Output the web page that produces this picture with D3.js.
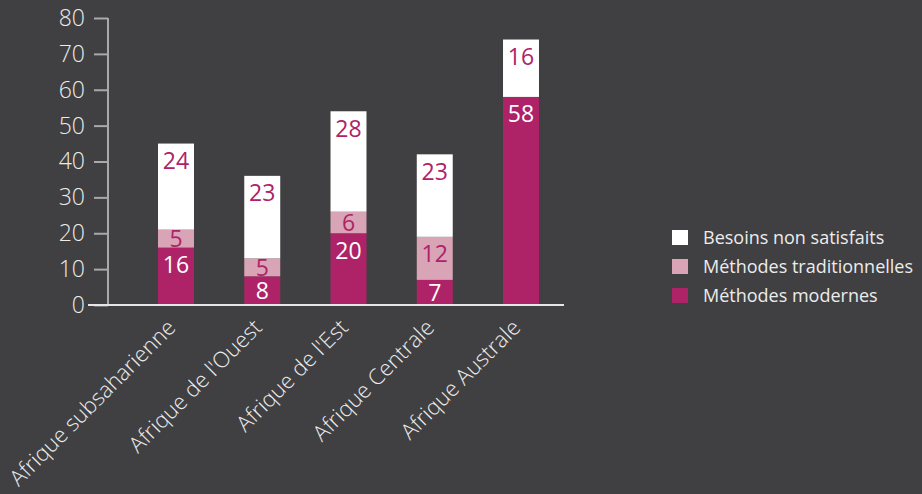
<!DOCTYPE html>
<html>
<head>
<meta charset="utf-8">
<script src="https://cdn.jsdelivr.net/npm/d3@7/dist/d3.min.js"></script>
<style>
  html, body { margin: 0; padding: 0; background: #404042; }
  svg { display: block; }
  text { font-family: "Open Sans", "Noto Sans", sans-serif; }
</style>
</head>
<body>
<svg id="chart" width="922" height="494"></svg>
<script>
// Regions and the three stacked components (% of women)
const categories = ["Afrique subsaharienne", "Afrique de l'Ouest", "Afrique de l'Est", "Afrique Centrale", "Afrique Australe"];
const modernes = [16, 8, 20, 7, 58];
const traditionnelles = [5, 5, 6, 12, 0];
const nonSatisfaits = [24, 23, 28, 23, 16];
const seriesNames = ["Méthodes modernes", "Méthodes traditionnelles", "Besoins non satisfaits"];
const yTicks = [0, 10, 20, 30, 40, 50, 60, 70, 80];

const colors = ["#ae2368", "#d9a4b6", "#ffffff"];
const labelColors = ["#ffffff", "#ae2368", "#ae2368"];
const FONT = "'Open Sans', 'Noto Sans', sans-serif";

const svg = d3.select("#chart");

const y = d3.scaleLinear().domain([0, 80]).range([305, 18]);
const x = d3.scaleBand().domain(categories).range([133, 564])
  .paddingInner(0.583).paddingOuter(0.29);

const rows = categories.map((c, i) => ({
  cat: c,
  "Méthodes modernes": modernes[i],
  "Méthodes traditionnelles": traditionnelles[i],
  "Besoins non satisfaits": nonSatisfaits[i]
}));
const stacked = d3.stack().keys(seriesNames)(rows);

// Y axis
const yAxis = svg.append("g").attr("transform", "translate(108,0)")
  .call(d3.axisLeft(y).tickValues(yTicks).tickSize(14).tickPadding(9));
yAxis.selectAll("path, line").attr("stroke", "#a9a9ab").attr("stroke-width", 2);
yAxis.select(".domain").attr("d", "M0," + y(80) + "V" + y(0));
yAxis.selectAll("text").attr("fill", "#ececec").style("font-size", "23px")
  .style("font-family", FONT).style("font-weight", 300);

// Stacked bars
stacked.forEach((layer, li) => {
  const g = svg.append("g");
  layer.forEach(d => {
    const v = d[1] - d[0];
    if (v <= 0) return;
    const top = y(d[1]), bot = y(d[0]);
    g.append("rect")
      .attr("x", x(d.data.cat)).attr("width", x.bandwidth())
      .attr("y", top).attr("height", bot - top)
      .attr("fill", colors[li]);
    const h = bot - top;
    g.append("text")
      .attr("x", x(d.data.cat) + x.bandwidth() / 2)
      .attr("y", top + Math.min(h / 2, 17))
      .attr("dy", "0.36em")
      .attr("text-anchor", "middle")
      .attr("fill", labelColors[li])
      .style("font-size", "23px")
      .text(v);
  });
});

// X baseline
svg.append("line").attr("x1", 88).attr("x2", 564).attr("y1", y(0)).attr("y2", y(0))
  .attr("stroke", "#e6e6e6").attr("stroke-width", 2);

// Category labels, rotated
svg.append("g").selectAll("text").data(categories).join("text")
  .attr("transform", d => "translate(" + (x(d) + x.bandwidth() / 2 - 10) + ",318) rotate(-45)")
  .attr("text-anchor", "end")
  .attr("dy", "0.7em")
  .attr("fill", "#ececec")
  .style("font-size", "22px")
  .style("font-weight", 300)
  .text(d => d);

// Legend
const legendItems = ["Besoins non satisfaits", "Méthodes traditionnelles", "Méthodes modernes"];
const legendColors = ["#ffffff", "#d9a4b6", "#ae2368"];
const lg = svg.append("g").attr("transform", "translate(672,230)");
legendItems.forEach((name, i) => {
  lg.append("rect").attr("x", 0).attr("y", i * 29).attr("width", 16).attr("height", 15)
    .attr("fill", legendColors[i]);
  lg.append("text").attr("x", 31).attr("y", i * 29 + 8).attr("dy", "0.36em")
    .attr("fill", "#ececec").style("font-size", "18px").style("font-weight", 400).text(name);
});
</script>
</body>
</html>
